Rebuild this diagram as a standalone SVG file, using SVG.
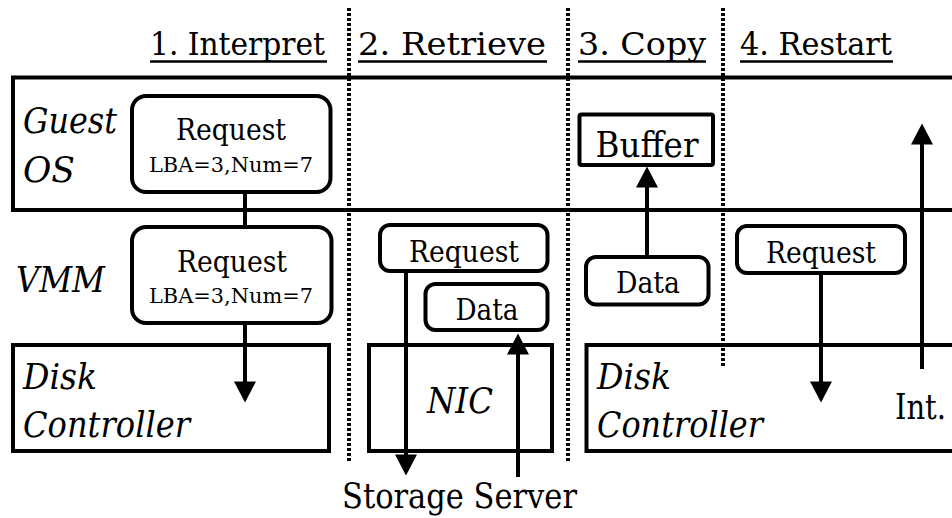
<svg xmlns="http://www.w3.org/2000/svg" width="952" height="518" viewBox="0 0 952 518">
<style>
text{font-family:"DejaVu Serif","Liberation Serif",serif;fill:#000}
.h{font-size:32px}
.lab{font-size:35px;font-style:italic}
.req{font-size:30px}
.small{font-size:21px}
.big{font-size:36px}
.box{fill:none;stroke:#000;stroke-width:4}
.rbox{fill:#fff;stroke:#000;stroke-width:4}
.ln{stroke:#000;stroke-width:4;fill:none}
.ul{stroke:#000;stroke-width:2.5}
.dot{stroke:#000;stroke-width:4;stroke-dasharray:3 2}
</style>
<defs>
<marker id="ah" markerUnits="userSpaceOnUse" markerWidth="22" markerHeight="22" viewBox="0 0 21 22" refX="0.5" refY="11" orient="auto">
<path d="M0,0 L21,11 L0,22 Z" fill="#000"/>
</marker>
</defs>

<g id="headings">
<text class="h" x="150" y="55" textLength="175" lengthAdjust="spacingAndGlyphs">1. Interpret</text>
<line class="ul" x1="150" y1="61.5" x2="327" y2="61.5"/>
<text class="h" x="358" y="55" textLength="188" lengthAdjust="spacingAndGlyphs">2. Retrieve</text>
<line class="ul" x1="358" y1="61.5" x2="547" y2="61.5"/>
<text class="h" x="578" y="55" textLength="128" lengthAdjust="spacingAndGlyphs">3. Copy</text>
<line class="ul" x1="578" y1="61.5" x2="706" y2="61.5"/>
<text class="h" x="740" y="55" textLength="152" lengthAdjust="spacingAndGlyphs">4. Restart</text>
<line class="ul" x1="740" y1="61.5" x2="893" y2="61.5"/>
</g>

<g id="dividers">
<line class="dot" x1="349" y1="8" x2="349" y2="462"/>
<line class="dot" x1="568" y1="8" x2="568" y2="462"/>
<line class="dot" x1="723" y1="8" x2="723" y2="366"/>
</g>

<g id="guest-os">
<rect class="box" x="13" y="77.5" width="960" height="132.5"/>
<text class="lab" x="23" y="133" textLength="94" lengthAdjust="spacingAndGlyphs">Guest</text>
<text class="lab" x="23" y="182" textLength="52" lengthAdjust="spacingAndGlyphs">OS</text>
</g>

<g id="vmm-label">
<text class="lab" x="16" y="292" textLength="89" lengthAdjust="spacingAndGlyphs">VMM</text>
</g>

<g id="disk-controller-1">
<rect class="box" x="13" y="345" width="316" height="106"/>
<text class="lab" x="23" y="389" textLength="74" lengthAdjust="spacingAndGlyphs">Disk</text>
<text class="lab" x="23" y="437" textLength="167" lengthAdjust="spacingAndGlyphs">Controller</text>
</g>

<g id="nic">
<rect class="box" x="369" y="345" width="183" height="106"/>
<text class="lab" x="427" y="413" textLength="66" lengthAdjust="spacingAndGlyphs">NIC</text>
</g>

<g id="disk-controller-2">
<rect class="box" x="586.5" y="345" width="400" height="106"/>
<text class="lab" x="597" y="389" textLength="74" lengthAdjust="spacingAndGlyphs">Disk</text>
<text class="lab" x="597" y="437" textLength="166" lengthAdjust="spacingAndGlyphs">Controller</text>
<text class="big" x="895" y="419" textLength="51" lengthAdjust="spacingAndGlyphs">Int.</text>
</g>

<g id="connectors">
<line class="ln" x1="245" y1="192" x2="245" y2="227"/>
<line class="ln" x1="245" y1="323" x2="245" y2="382" marker-end="url(#ah)"/>
<line class="ln" x1="406" y1="271" x2="406" y2="455" marker-end="url(#ah)"/>
<line class="ln" x1="518" y1="477" x2="518" y2="354" marker-end="url(#ah)"/>
<line class="ln" x1="647" y1="257" x2="647" y2="187" marker-end="url(#ah)"/>
<line class="ln" x1="821" y1="273" x2="821" y2="382" marker-end="url(#ah)"/>
<line class="ln" x1="922" y1="369" x2="922" y2="144" marker-end="url(#ah)"/>
</g>

<g id="guest-request">
<rect class="rbox" x="132" y="96" width="198.5" height="96" rx="14"/>
<text class="req" x="231" y="140" text-anchor="middle" textLength="110" lengthAdjust="spacingAndGlyphs">Request</text>
<text class="small" x="231" y="172" text-anchor="middle" textLength="164" lengthAdjust="spacingAndGlyphs">LBA=3,Num=7</text>
</g>

<g id="vmm-request">
<rect class="rbox" x="132" y="227" width="199.5" height="96" rx="14"/>
<text class="req" x="232" y="272" text-anchor="middle" textLength="110" lengthAdjust="spacingAndGlyphs">Request</text>
<text class="small" x="231" y="303" text-anchor="middle" textLength="164" lengthAdjust="spacingAndGlyphs">LBA=3,Num=7</text>
</g>

<g id="retrieve-request">
<rect class="rbox" x="380" y="225" width="167.5" height="46" rx="10"/>
<text class="req" x="464" y="262" text-anchor="middle" textLength="110" lengthAdjust="spacingAndGlyphs">Request</text>
</g>

<g id="retrieve-data">
<rect class="rbox" x="425.5" y="284" width="122" height="46" rx="10"/>
<text class="req" x="487" y="320" text-anchor="middle" textLength="63" lengthAdjust="spacingAndGlyphs">Data</text>
</g>

<g id="buffer">
<rect class="rbox" x="579.5" y="114.5" width="133.5" height="50.5" rx="2"/>
<text class="big" x="647" y="157" text-anchor="middle" textLength="103" lengthAdjust="spacingAndGlyphs">Buffer</text>
</g>

<g id="copy-data">
<rect class="rbox" x="586" y="257" width="122.5" height="47.5" rx="10"/>
<text class="req" x="648" y="293" text-anchor="middle" textLength="64" lengthAdjust="spacingAndGlyphs">Data</text>
</g>

<g id="restart-request">
<rect class="rbox" x="737" y="226" width="168" height="47" rx="10"/>
<text class="req" x="821" y="263" text-anchor="middle" textLength="110" lengthAdjust="spacingAndGlyphs">Request</text>
</g>

<g id="storage-server">
<text class="big" x="342" y="508" textLength="235" lengthAdjust="spacingAndGlyphs">Storage Server</text>
</g>
</svg>
